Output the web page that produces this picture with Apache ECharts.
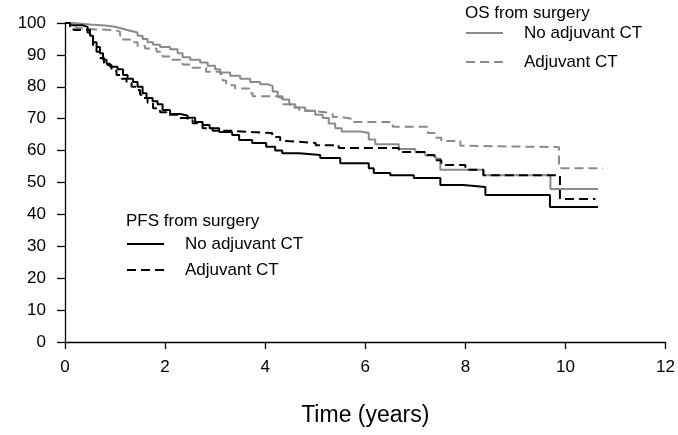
<!DOCTYPE html>
<html><head><meta charset="utf-8">
<script src="https://cdn.jsdelivr.net/npm/echarts@6/dist/echarts.min.js"></script>
<style>html,body{margin:0;padding:0;background:#fff}#c{width:678px;height:435px}</style>
</head><body><div id="c"></div>
<script>
const xTicks = [0, 2, 4, 6, 8, 10, 12];
const yTicks = [0, 10, 20, 30, 40, 50, 60, 70, 80, 90, 100];

const osNoT = [0,0.15,0.5,0.8,1.0,1.15,1.3,1.45,1.55,1.65,1.76,1.9,2.1,2.25,2.35,2.5,2.7,2.85,3.0,3.1,3.3,3.5,3.7,3.9,4.05,4.15,4.25,4.35,4.48,4.6,4.8,5.0,5.15,5.27,5.4,5.53,5.9,6.07,6.2,6.67,7.0,7.2,7.4,7.5,8.36,9.7,10.65];
const osNoS = [100,99.5,99.2,98.8,98.2,97.6,97,96,95,94,93.2,92.5,91.8,90.5,89.3,88.5,87.6,86.6,85.5,84.5,83.5,82.5,81.5,80.8,80.3,78.5,77,76,74.5,73.5,72.5,71.2,70.2,68.5,67,66,65.5,63.5,62,60.5,59.5,58.5,57.5,54,52.3,48,48];

const osAdjT = [0,0.1,0.2,0.6,1.0,1.1,1.16,1.3,1.45,1.6,1.83,1.95,2.1,2.35,2.55,2.82,3.1,3.15,3.22,3.4,3.68,3.75,4.22,4.34,4.5,4.68,4.9,5.2,5.35,5.53,5.73,6.55,7.25,7.4,7.52,7.9,8.0,9.87,10.75];
const osAdjS = [100,98.5,98,97.8,97.3,96,94.8,94,92.8,92,91,89.5,88.5,87,86,84.7,84,82,80.5,79.5,78,77,76.5,74.5,73.5,72.5,72,71.5,70.5,70,69,67.5,65.5,64,63,61.5,61.1,54.5,54.5];

const pfsNoT = [0,0.1,0.35,0.45,0.5,0.56,0.63,0.7,0.76,0.83,0.9,1.05,1.16,1.25,1.36,1.45,1.55,1.63,1.75,1.85,1.95,2.1,2.3,2.45,2.6,2.75,2.89,3.08,3.34,3.48,3.74,4.02,4.2,4.34,4.68,5.1,5.5,6.07,6.17,6.5,6.97,7.5,7.96,8.4,9.69,10.65];
const pfsNoS = [100,99.3,98.8,97,96,94,92.5,90.5,88.5,87.2,86.3,85.5,83.7,82.5,81.5,80,78,76.5,75.5,74.5,72.7,71.5,71,70.3,69,68,67,65.8,64.9,63.3,62.4,61.2,60,59.2,58.6,57.7,56,54.5,53,52.3,51.4,49.2,48.6,46.1,42.3,42.3];

const pfsAdjT = [0,0.1,0.17,0.5,0.56,0.63,0.7,0.78,0.83,0.93,1.03,1.13,1.23,1.33,1.43,1.5,1.55,1.65,1.76,1.9,2.03,2.29,2.45,2.55,2.75,2.95,3.34,3.74,4.14,4.3,4.42,5.01,5.47,6.67,7.2,7.38,7.52,8.0,8.36,9.89,10.6];
const pfsAdjS = [100,98.5,97.8,96.5,93,91,89,87.5,86.8,85,83.7,82.5,81.2,80,79,77.5,76.5,75,73.3,72,71.2,70.2,69.5,68.6,67,66.2,65.8,65.5,64.3,63,62.4,61.7,60.8,59.6,58.6,57,55.5,54,52.3,44.8,44.8];

const FONT = 'Liberation Sans';
const GRAY = '#8a8a8a';
const pair = (t, s) => t.map((v, i) => [v, s[i]]);
const mk = (name, t, s, color, dashed) => ({
  name, type: 'line', step: 'end', symbol: 'none', silent: true,
  data: pair(t, s),
  lineStyle: {color, width: 2, type: dashed ? [9, 5] : 'solid'},
  itemStyle: {color}
});
const strip = n => n.replace(/^(OS|PFS) /, '');
const legendBase = {
  orient: 'vertical', padding: 0, itemWidth: 37, itemHeight: 14,
  formatter: strip, selectedMode: false,
  itemStyle: {opacity: 0},
  textStyle: {fontFamily: FONT, fontSize: 17, color: '#000', lineHeight: 20, padding: [0, 0, 0, 16]}
};
const chart = echarts.init(document.getElementById('c'));
chart.setOption({
  animation: false,
  backgroundColor: '#fff',
  grid: {left: 65, right: 10, top: 23, bottom: 93},
  xAxis: {
    type: 'value', min: xTicks[0], max: xTicks[xTicks.length - 1], interval: 2,
    name: 'Time (years)', nameLocation: 'middle', nameGap: 62,
    nameTextStyle: {fontFamily: FONT, fontSize: 23, color: '#000'},
    axisLine: {lineStyle: {color: '#000', width: 1.3}},
    axisTick: {show: true, length: 7, lineStyle: {color: '#000', width: 1.3}},
    axisLabel: {fontFamily: FONT, fontSize: 17, color: '#000', margin: 17},
    splitLine: {show: false}
  },
  yAxis: {
    type: 'value', min: yTicks[0], max: yTicks[yTicks.length - 1], interval: 10,
    axisLine: {show: true, lineStyle: {color: '#000', width: 1.3}},
    axisTick: {show: true, length: 8, lineStyle: {color: '#000', width: 1.3}},
    axisLabel: {fontFamily: FONT, fontSize: 17, color: '#000', margin: 19},
    splitLine: {show: false}
  },
  legend: [
    Object.assign({}, legendBase, {left: 465, top: 23, itemGap: 9,
      data: ['OS No adjuvant CT', 'OS Adjuvant CT']}),
    Object.assign({}, legendBase, {left: 126, top: 234, itemGap: 6,
      data: ['PFS No adjuvant CT', 'PFS Adjuvant CT']})
  ],
  graphic: [
    {type: 'text', left: 465, top: 5, style: {text: 'OS from surgery', font: '17px "Liberation Sans"', fill: '#000'}},
    {type: 'text', left: 126, top: 213, style: {text: 'PFS from surgery', font: '17px "Liberation Sans"', fill: '#000'}}
  ],
  series: [
    mk('OS No adjuvant CT', osNoT, osNoS, GRAY, false),
    mk('OS Adjuvant CT', osAdjT, osAdjS, GRAY, true),
    mk('PFS No adjuvant CT', pfsNoT, pfsNoS, '#000', false),
    mk('PFS Adjuvant CT', pfsAdjT, pfsAdjS, '#000', true)
  ]
});
</script></body></html>
